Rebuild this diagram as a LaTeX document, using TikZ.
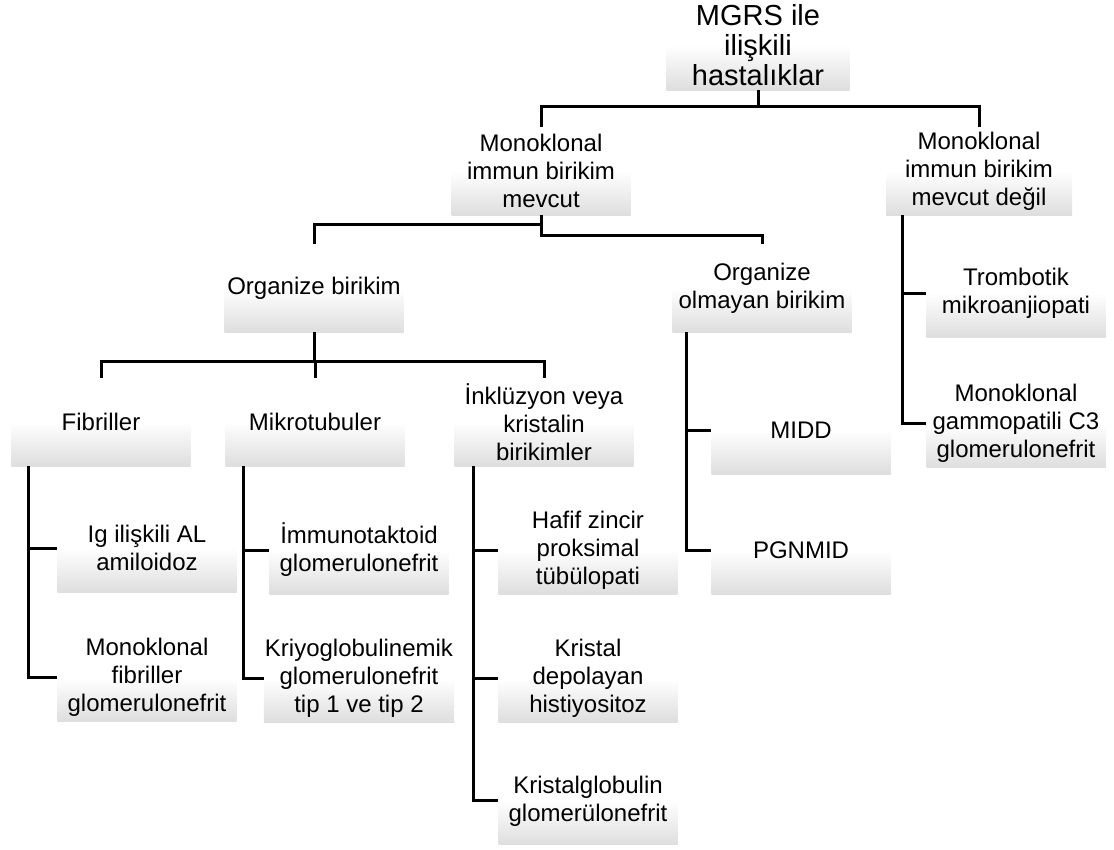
\documentclass[tikz,border=0pt]{standalone}
\usepackage{fontspec}
\setmainfont{Liberation Sans}
\usetikzlibrary{positioning,calc}

\tikzset{
  kutu/.style={rectangle, top color=white, bottom color=black!13, middle color=white, minimum width=179pt, minimum height=88pt, inner sep=1pt, align=center, font=\fontsize{24}{28}\selectfont},
  baglanti/.style={line width=3pt}
}

\begin{document}
\begin{tikzpicture}[x=1pt,y=-1pt,node distance=40pt]
\useasboundingbox (0,0) rectangle (1114,849);

\node[kutu, minimum width=183pt, minimum height=90pt, font=\fontsize{29}{30}\selectfont] (kok) at (758,45) {MGRS ile\\ilişkili\\hastalıklar};
\node[kutu] (mon) at (541,171) {Monoklonal\\immun birikim\\mevcut};
\node[kutu, minimum width=186pt] (mondeg) at (979,171) {Monoklonal\\immun birikim\\mevcut değil};

\node[kutu] (orgb) at (314,288) {Organize birikim};
\node[kutu] (orgo) at (762,288) {Organize\\olmayan birikim};

\node[kutu] (fib) at (101,422) {Fibriller};
\node[kutu] (mik) at (315,422) {Mikrotubuler};
\node[kutu] (ink) at (544,422) {İnklüzyon veya\\kristalin\\birikimler};

\node[kutu] (ig) at (147,548) {Ig ilişkili AL\\amiloidoz};
\node[kutu, below=41pt of ig] (monfib) {Monoklonal\\fibriller\\glomerulonefrit};
\node[kutu] (imm) at (359,550) {İmmunotaktoid\\glomerulonefrit};
\node[kutu, below=40pt of imm] (kri) {Kriyoglobulinemik\\glomerulonefrit\\tip 1 ve tip 2};
\node[kutu] (haf) at (588,550) {Hafif zincir\\proksimal\\tübülopati};
\node[kutu, below=40pt of haf] (kds) {Kristal\\depolayan\\histiyositoz};
\node[kutu, below=34pt of kds] (krg) {Kristalglobulin\\glomerülonefrit};
\node[kutu] (midd) at (801,430) {MIDD};
\node[kutu, below=32pt of midd] (pgn) {PGNMID};
\node[kutu] (trom) at (1016,293) {Trombotik\\mikroanjiopati};
\node[kutu, below=42pt of trom] (c3) {Monoklonal\\gammopatili C3\\glomerulonefrit};

% ust seviye
\draw[baglanti] (kok.south) -- ++(0,16) coordinate (k1);
\draw[baglanti] (mon.north) |- (k1) -| (mondeg.north);

\draw[baglanti] (mon.south) -- ++(0,9) -| (orgb.north);
\draw[baglanti] (mon.south) -- ++(0,20) -| (orgo.north);

\draw[baglanti] (orgb.south) -- ++(0,29) coordinate (o1) -| (fib.north);
\draw[baglanti] (o1) -| (ink.north);
\draw[baglanti] (o1) -| (mik.north);

% alt dallar
\coordinate (fibk) at ($(fib.south west)+(17,0)$);
\draw[baglanti] (fibk) |- (ig.west);
\draw[baglanti] (fibk) |- (monfib.west);

\coordinate (mikk) at ($(mik.south west)+(18,0)$);
\draw[baglanti] (mikk) |- (imm.west);
\draw[baglanti] (mikk) |- (kri.west);

\coordinate (inkk) at ($(ink.south west)+(19,0)$);
\draw[baglanti] (inkk) |- (haf.west);
\draw[baglanti] (inkk) |- (kds.west);
\draw[baglanti] (inkk) |- (krg.west);

\coordinate (orgok) at ($(orgo.south west)+(14,0)$);
\draw[baglanti] (orgok) |- (midd.west);
\draw[baglanti] (orgok) |- (pgn.west);

\coordinate (degk) at ($(mondeg.south west)+(17,0)$);
\draw[baglanti] (degk) |- (trom.west);
\draw[baglanti] (degk) |- (c3.west);
\end{tikzpicture}
\end{document}
